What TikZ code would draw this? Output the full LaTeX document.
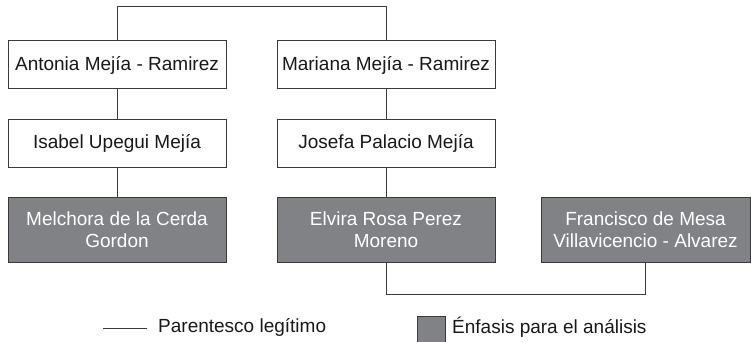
\documentclass[tikz,border=0pt]{standalone}
\usepackage{fontspec}
\setmainfont{Liberation Sans}
\definecolor{linegray}{HTML}{3A3A3A}
\definecolor{boxgray}{HTML}{818285}
\begin{document}
\begin{tikzpicture}[x=1pt,y=1pt,
    font=\fontsize{19}{22.5}\selectfont,
    person/.style={draw=linegray, line width=1pt, fill=white, text=black!90,
        minimum width=218pt, minimum height=48pt, inner sep=0pt, align=center},
    focus/.style={person, fill=boxgray, text=white, minimum height=65pt},
    link/.style={draw=linegray, line width=0.9pt}]
    \useasboundingbox (0,0) rectangle (751,-342);

    % the first generation
    \node[person] (anto) at (117,-65) {Antonia Mejía - Ramirez};
    \node[person] (mari) at (386,-65) {Mariana Mejía - Ramirez};

    % the second generation
    \node[person] (isa) at (117,-143) {Isabel Upegui Mejía};
    \node[person] (jos) at (386,-143) {Josefa Palacio Mejía};

    % the people in focus
    \node[focus] (mel) at (117,-229.5) {Melchora de la Cerda\\Gordon};
    \node[focus] (elv) at (386,-229.5) {Elvira Rosa Perez\\Moreno};
    \node[focus, minimum width=209pt] (fra) at (645.5,-229.5) {Francisco de Mesa\\Villavicencio - Alvarez};

    % draw the links
    \draw[link] (anto.north) -- ++(0,34) -| (mari.north);
    \draw[link] (anto) -- (isa);
    \draw[link] (isa) -- (mel);
    \draw[link] (mari) -- (jos);
    \draw[link] (jos) -- (elv);
    \draw[link] (elv.south) -- ++(0,-32) -| (fra.south);

    % the legend
    \coordinate (l1) at (103,-328);
    \coordinate (l2) at (147,-328);
    \draw[link] (l1) -- (l2);
    \node[anchor=west, inner sep=0pt, text=black!90] (ltxt) at (158,-327) {Parentesco legítimo};
    \node[draw=linegray, line width=1pt, fill=boxgray, minimum width=28pt, minimum height=26pt,
        inner sep=0pt] (lbox) at (431,-329) {};
    \node[anchor=west, inner sep=0pt, text=black!90] (ftxt) at (452,-327) {Énfasis para el análisis};
\end{tikzpicture}
\end{document}
